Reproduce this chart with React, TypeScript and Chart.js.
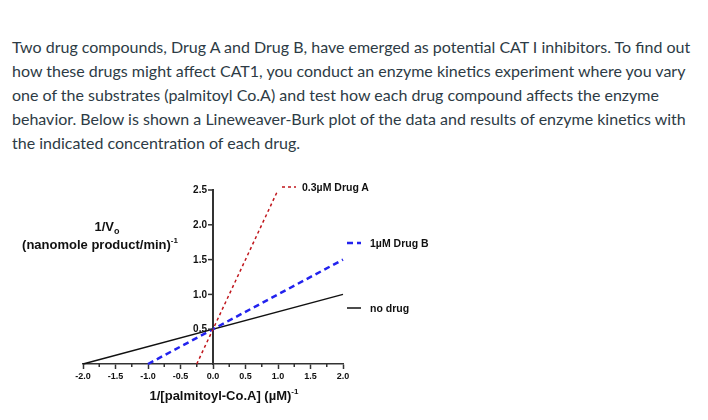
import React, { useEffect, useRef } from "react";
import { Chart, registerables } from "chart.js";

Chart.register(...registerables);

// ---- data ----
const xTicksMajor = [-2.0, -1.5, -1.0, -0.5, 0.0, 0.5, 1.0, 1.5, 2.0];
const yTicks = [0.5, 1.0, 1.5, 2.0, 2.5];

const noDrugX = [-2.0, 2.0];
const noDrugY = [0.0, 1.0];

const drugBX = [-1.0, 2.0];
const drugBY = [0.0, 1.5];

const drugAX = [-0.25, 1.0];
const drugAY = [0.0, 2.5];

const seriesLabels = ["0.3\u00b5M Drug A", "1\u00b5M Drug B", "no drug"];

const pts = (xs: number[], ys: number[]) => xs.map((x, i) => ({ x, y: ys[i] }));

const RED = "#c0161c";
const BLUE = "#2222ee";
const BLACK = "#111111";
const AXIS = "#333333";
const FONT = "'Liberation Sans', Arial, sans-serif";

const paragraph =
  "Two drug compounds, Drug A and Drug B, have emerged as potential CAT I inhibitors. To find out how these drugs might affect CAT1, you conduct an enzyme kinetics experiment where you vary one of the substrates (palmitoyl Co.A) and test how each drug compound affects the enzyme behavior. Below is shown a Lineweaver-Burk plot of the data and results of enzyme kinetics with the indicated concentration of each drug.";

const CANVAS_TOP = 165;

export default function App() {
  const ref = useRef<HTMLCanvasElement | null>(null);

  useEffect(() => {
    if (!ref.current) return;

    const extras = {
      id: "extras",
      afterDraw(chart: any) {
        const ctx = chart.ctx;
        const sx = chart.scales.x;
        const sy = chart.scales.y;
        ctx.save();
        // minor ticks on x axis
        ctx.strokeStyle = AXIS;
        ctx.lineWidth = 1.5;
        const yb = sy.getPixelForValue(0);
        for (let v = -1.75; v < 2; v += 0.5) {
          const px = sx.getPixelForValue(v);
          ctx.beginPath();
          ctx.moveTo(px, yb);
          ctx.lineTo(px, yb + 3);
          ctx.stroke();
        }
        // y tick labels (left of the centred y axis)
        const ax = sx.getPixelForValue(0);
        ctx.fillStyle = "#111";
        ctx.font = `bold 10px ${FONT}`;
        ctx.textAlign = "right";
        ctx.textBaseline = "middle";
        yTicks.forEach((v) => {
          ctx.fillText(v.toFixed(1), ax - 6, sy.getPixelForValue(v) + 0.5);
        });
        // legend samples
        const samples = [
          { y: 187 - CANVAS_TOP, x0: 282, x1: 296, color: RED, dash: [3, 3], w: 1.5 },
          { y: 243 - CANVAS_TOP, x0: 347, x1: 361, color: BLUE, dash: [6, 4], w: 2.5 },
          { y: 308 - CANVAS_TOP, x0: 347, x1: 361, color: BLACK, dash: [], w: 1.5 },
        ];
        samples.forEach((s) => {
          ctx.strokeStyle = s.color;
          ctx.lineWidth = s.w;
          ctx.setLineDash(s.dash);
          ctx.beginPath();
          ctx.moveTo(s.x0, s.y);
          ctx.lineTo(s.x1, s.y);
          ctx.stroke();
        });
        ctx.restore();
      },
    };

    const chart = new Chart(ref.current, {
      type: "line",
      data: {
        datasets: [
          {
            label: seriesLabels[0],
            data: pts(drugAX, drugAY),
            borderColor: RED,
            borderWidth: 1.5,
            borderDash: [3, 3],
            pointRadius: 0,
            fill: false,
            clip: false as any,
          },
          {
            label: seriesLabels[1],
            data: pts(drugBX, drugBY),
            borderColor: BLUE,
            borderWidth: 2.5,
            borderDash: [6, 4],
            pointRadius: 0,
            fill: false,
            clip: false as any,
          },
          {
            label: seriesLabels[2],
            data: pts(noDrugX, noDrugY),
            borderColor: BLACK,
            borderWidth: 1.5,
            pointRadius: 0,
            fill: false,
            clip: false as any,
          },
        ],
      },
      options: {
        animation: false,
        responsive: false,
        events: [],
        layout: { padding: { left: 83, right: 365, top: 25, bottom: 0 } },
        plugins: { legend: { display: false }, tooltip: { enabled: false } },
        scales: {
          x: {
            type: "linear",
            position: "bottom",
            min: -2,
            max: 2,
            afterFit: (s: any) => {
              s.height = 56;
            },
            afterBuildTicks: (s: any) => {
              s.ticks = xTicksMajor.map((v) => ({ value: v }));
            },
            ticks: {
              autoSkip: false,
              maxRotation: 0,
              padding: 2,
              color: "#111",
              font: { family: FONT, size: 9, weight: "bold" },
              callback: (v: any) => Number(v).toFixed(1),
            },
            grid: {
              drawOnChartArea: false,
              drawTicks: true,
              tickLength: 5,
              tickColor: AXIS,
              tickWidth: 1.5,
            },
            border: { display: true, color: AXIS, width: 1.5 },
          },
          y: {
            type: "linear",
            position: { x: 0 } as any,
            min: 0,
            max: 2.5,
            afterBuildTicks: (s: any) => {
              s.ticks = [0, ...yTicks].map((v) => ({ value: v }));
            },
            ticks: { display: false },
            grid: {
              drawOnChartArea: false,
              drawTicks: false,
            },
            border: { display: true, color: AXIS, width: 2 },
          },
        },
      },
      plugins: [
        extras,
        {
          id: "yTickMarks",
          afterDraw(chart: any) {
            const ctx = chart.ctx;
            const ax = chart.scales.x.getPixelForValue(0);
            const sy = chart.scales.y;
            ctx.save();
            ctx.strokeStyle = AXIS;
            ctx.lineWidth = 1.5;
            yTicks.forEach((v) => {
              const py = sy.getPixelForValue(v);
              ctx.beginPath();
              ctx.moveTo(ax - 5, py);
              ctx.lineTo(ax, py);
              ctx.stroke();
            });
            ctx.restore();
          },
        },
      ],
    });
    return () => chart.destroy();
  }, []);

  const bold: React.CSSProperties = {
    position: "absolute",
    fontFamily: FONT,
    fontWeight: "bold",
    color: "#111",
    whiteSpace: "nowrap",
    lineHeight: 1,
  };

  return (
    <div style={{ position: "absolute", left: 0, top: 0, width: 708, height: 420, background: "#fff", overflow: "hidden" }}>
      <p
        style={{
          position: "absolute",
          left: 12,
          top: 35,
          width: 690,
          margin: 0,
          fontFamily: "Lato, sans-serif",
          fontSize: 16,
          lineHeight: "24px",
          color: "#2d3b45",
        }}
      >
        {paragraph}
      </p>
      <canvas
        ref={ref}
        width={708}
        height={255}
        style={{ position: "absolute", left: 0, top: CANVAS_TOP, width: 708, height: 255 }}
      />
      <div style={{ ...bold, left: 57, width: 100, textAlign: "center", top: 220, fontSize: 13 }}>
        1/V<sub style={{ fontSize: 9, verticalAlign: "-3px" }}>o</sub>
      </div>
      <div style={{ ...bold, left: 0, width: 200, textAlign: "center", top: 237, fontSize: 13 }}>
        (nanomole product/min)<sup style={{ fontSize: 8, verticalAlign: "6px" }}>-1</sup>
      </div>
      <div style={{ ...bold, left: 124, width: 200, textAlign: "center", top: 388, fontSize: 13 }}>
        1/[palmitoyl-Co.A] ({"\u00b5"}M)<sup style={{ fontSize: 8, verticalAlign: "6px" }}>-1</sup>
      </div>
      <div style={{ ...bold, left: 302, top: 182, fontSize: 10.5 }}>{seriesLabels[0]}</div>
      <div style={{ ...bold, left: 370, top: 238, fontSize: 10.5 }}>{seriesLabels[1]}</div>
      <div style={{ ...bold, left: 370, top: 303, fontSize: 10.5 }}>{seriesLabels[2]}</div>
    </div>
  );
}
